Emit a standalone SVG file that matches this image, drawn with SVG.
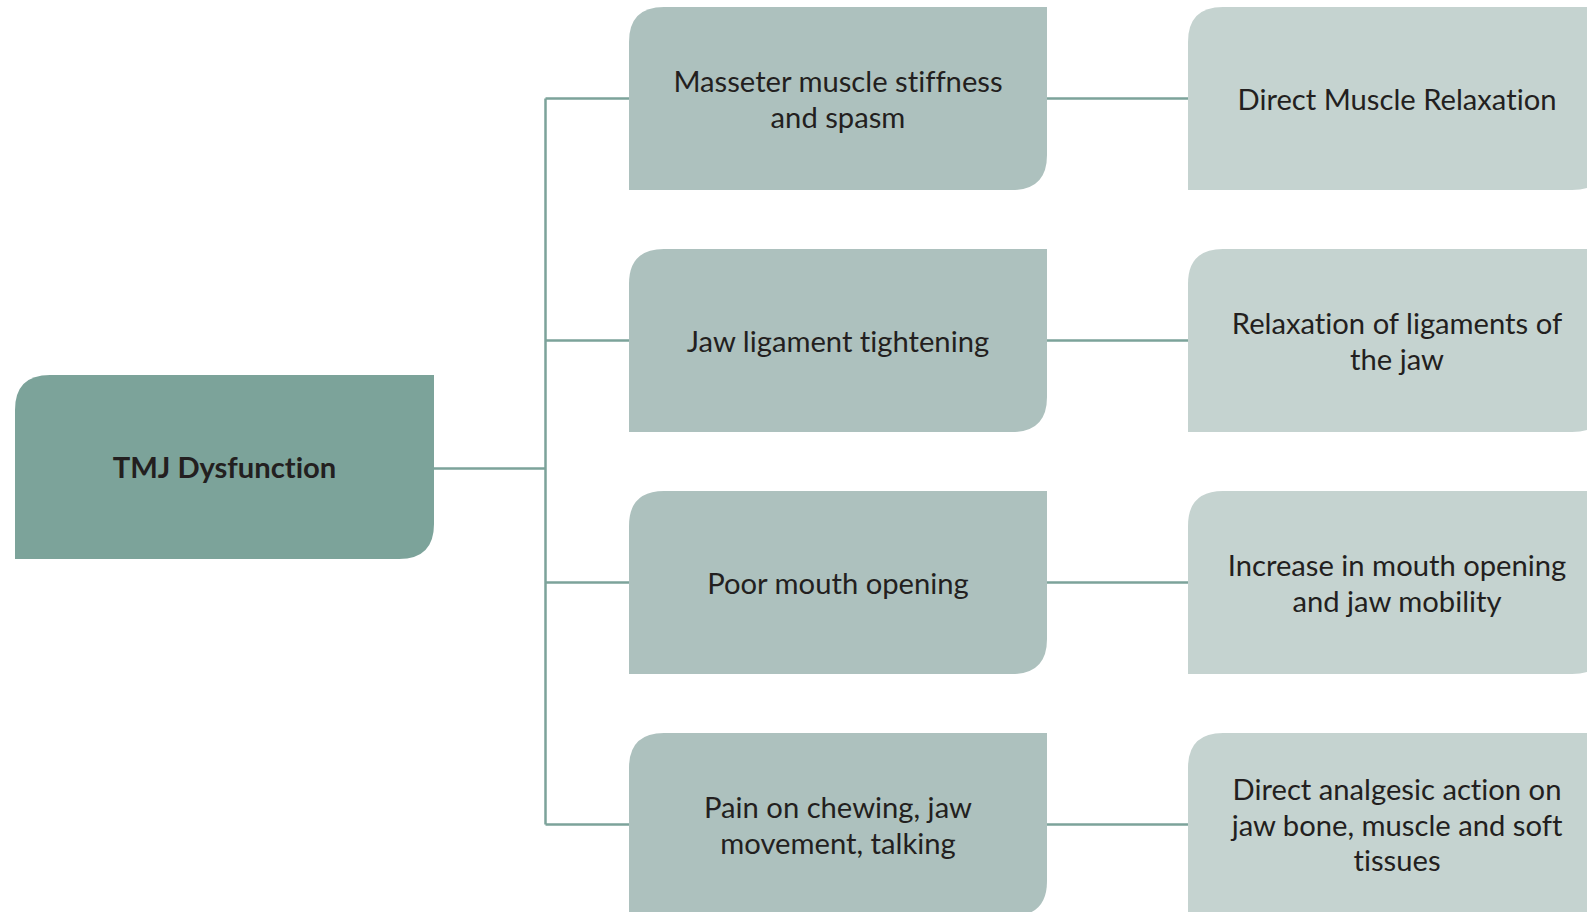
<svg xmlns="http://www.w3.org/2000/svg" width="1587" height="912" viewBox="0 0 1587 912">
<defs>
<style>
.root{fill:#7ca39a}
.mid{fill:#adc1be}
.res{fill:#c5d3d0}
.t{font-family:Lato,"Liberation Sans",sans-serif;font-size:29.2px;fill:#231f20;text-anchor:middle;font-variant-ligatures:none;font-feature-settings:"liga" 0}
.b{font-weight:bold}
.c{stroke:#7ca39a;stroke-width:2.5;fill:none}
</style>
</defs>
<rect width="1587" height="912" fill="#ffffff"/>
<g id="connectors">
<path class="c" d="M434 468.5H545.5M545.5 98.5V824.5M545.5 98.5H629M545.5 340.5H629M545.5 582.5H629M545.5 824.5H629"/>
<path class="c" d="M1047 98.5H1188M1047 340.5H1188M1047 582.5H1188M1047 824.5H1188"/>
</g>
<g id="root">
<path class="root" d="M15 410Q15 375 50 375H434V524Q434 559 399 559H15Z"/>
<text class="t b" x="224.5" y="478">TMJ Dysfunction</text>
</g>
<g id="s1">
<path class="mid" d="M629 42Q629 7 664 7H1047V155Q1047 190 1012 190H629Z"/>
<text class="t" x="838" y="92">Masseter muscle stiffness</text>
<text class="t" x="838" y="127.5">and spasm</text>
</g>
<g id="s2">
<path class="mid" d="M629 284Q629 249 664 249H1047V397Q1047 432 1012 432H629Z"/>
<text class="t" x="838" y="351.5">Jaw ligament tightening</text>
</g>
<g id="s3">
<path class="mid" d="M629 526Q629 491 664 491H1047V639Q1047 674 1012 674H629Z"/>
<text class="t" x="838" y="593.5">Poor mouth opening</text>
</g>
<g id="s4">
<path class="mid" d="M629 768Q629 733 664 733H1047V881Q1047 916 1012 916H629Z"/>
<text class="t" x="838" y="818">Pain on chewing, jaw</text>
<text class="t" x="838" y="853.5">movement, talking</text>
</g>
<g id="r1">
<path class="res" d="M1188 42Q1188 7 1223 7H1607V155Q1607 190 1572 190H1188Z"/>
<text class="t" x="1397" y="109.5">Direct Muscle Relaxation</text>
</g>
<g id="r2">
<path class="res" d="M1188 284Q1188 249 1223 249H1607V397Q1607 432 1572 432H1188Z"/>
<text class="t" x="1397" y="334">Relaxation of ligaments of</text>
<text class="t" x="1397" y="369.5">the jaw</text>
</g>
<g id="r3">
<path class="res" d="M1188 526Q1188 491 1223 491H1607V639Q1607 674 1572 674H1188Z"/>
<text class="t" x="1397" y="576">Increase in mouth opening</text>
<text class="t" x="1397" y="611.5">and jaw mobility</text>
</g>
<g id="r4">
<path class="res" d="M1188 768Q1188 733 1223 733H1607V881Q1607 916 1572 916H1188Z"/>
<text class="t" x="1397" y="800">Direct analgesic action on</text>
<text class="t" x="1397" y="835.5">jaw bone, muscle and soft</text>
<text class="t" x="1397" y="871">tissues</text>
</g>
</svg>
